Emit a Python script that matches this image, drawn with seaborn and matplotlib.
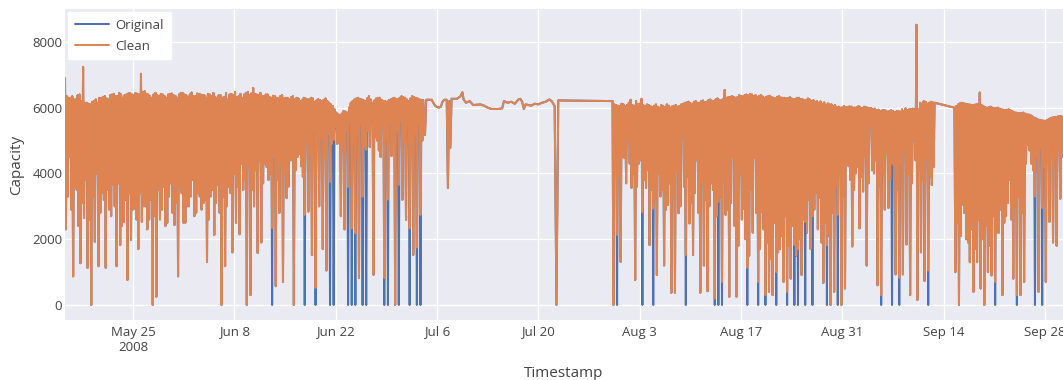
import numpy as np
import pandas as pd
import matplotlib
matplotlib.use("Agg")
import matplotlib.pyplot as plt
import seaborn as sns

# ---------------------------------------------------------------------------
# Capacity readings, May - Sep 2008.
# Busy periods are logged every three hours in a repeating cycle:
#   peak, trough, mid_peak, mid_trough, next peak, ...
# *_raw_zero lists the trough numbers where the raw feed reported 0 and the
# cleaning step replaced the reading with the trough value shown.
# ---------------------------------------------------------------------------
READ_STEP_HOURS = 3

spring_start = "2008-05-15 14:00"
spring_peaks = [
    6900, 6300, 6350, 6250, 6400, 7240, 6150, 6100, 6200, 6150,
    6300, 6350, 6250, 6400, 6350, 6450, 6300, 6400, 6450, 6380,
    6420, 7030, 6500, 6400, 6300, 6450, 6350, 6400, 6300, 6420,
    6380, 6300, 6450, 6400, 6320, 6460, 6350, 6420, 6380, 6300,
    6400, 6450, 6300, 6380, 6330, 6250, 6420, 6480, 6350, 6300,
    6450, 6380, 6600, 6400, 6450, 6350, 6400, 6300, 6350, 6280,
    6380, 6300, 6250, 6350, 6300, 6200, 6300, 6250, 6300, 6180,
    6260, 6200, 6280, 6150, 6050, 5850, 5780, 5900, 5850, 6150,
    6250, 6300, 6250, 6200, 6350, 6150, 6280, 6300, 6200, 6180,
    6250, 6300, 6250, 6350, 6300, 6200, 6350, 6300, 6250, 6230,
]
spring_troughs = [
    2300, 4500, 870, 3500, 1270, 2650, 1130, 0, 1920, 1180,
    3400, 1130, 2900, 3650, 1180, 1820, 2530, 760, 1980, 2930,
    1700, 2530, 3000, 2600, 0, 250, 2600, 3600, 2500, 3700,
    2430, 870, 3400, 2500, 3000, 3800, 2800, 3300, 3100, 1310,
    3300, 2130, 3650, 0, 1180, 3600, 1600, 2500, 2150, 3500,
    0, 300, 3000, 1580, 1900, 4300, 3800, 2340, 570, 2800,
    700, 3250, 4400, 0, 4500, 4220, 2740, 2840, 1520, 520,
    3000, 1700, 1050, 3740, 5020, 4900, 2700, 2300, 3590, 2330,
    2180, 820, 3290, 4720, 4800, 920, 5000, 4500, 820, 3200,
    4530, 0, 3650, 3200, 2590, 2330, 1520, 1750, 2740,
]
spring_mid_peaks = [
    6350, 6300, 6250, 6380, 6200, 6150, 6120, 6180, 6250, 6300,
    6330, 6280, 6380, 6420, 6350, 6400, 6380, 6430, 6400, 6450,
    6400, 6480, 6420, 6350, 6400, 6380, 6420, 6350, 6400, 6430,
    6360, 6400, 6450, 6380, 6400, 6350, 6430, 6400, 6380, 6420,
    6350, 6330, 6380, 6300, 6450, 6400, 6380, 6330, 6420, 6400,
    6480, 6430, 6420, 6380, 6350, 6400, 6330, 6360, 6300, 6350,
    6280, 6300, 6320, 6250, 6280, 6220, 6280, 6260, 6280, 6220,
    6230, 6240, 6200, 6100, 5950, 5800, 5820, 5880, 6000, 6200,
    6280, 6270, 6230, 6280, 6250, 6220, 6300, 6240, 6200, 6230,
    6280, 6270, 6300, 6320, 6250, 6280, 6320, 6280, 6240,
]
spring_mid_troughs = [
    3300, 2900, 3600, 2400, 3100, 3800, 2600, 3300, 4000, 2800,
    3200, 3500, 2700, 3000, 3700, 2400, 3200, 3400, 2900, 2600,
    3400, 3000, 2300, 3200, 2700, 3500, 2900, 2400, 3300, 2800,
    3100, 3600, 2500, 3000, 3300, 2700, 3400, 2900, 3200, 2600,
    3500, 3100, 2800, 3300, 3000, 3400, 4000, 3600, 4300, 3800,
    4200, 3500, 4100, 4400, 3700, 4200, 4000, 4500, 3800, 4300,
    4000, 3600, 4400, 4100, 4600, 3900, 5000, 4600, 5300, 4800,
    5100, 4500, 5200, 4900, 5400, 5000, 4700, 5300, 5600, 4900,
    5200, 5500, 4800, 5300, 5600, 5100, 4700, 5400, 5000, 5500,
    4900, 5300, 5600, 5000, 5400, 4800, 5200, 5500, 5000,
]
spring_raw_zero = [57, 66, 69, 73, 74, 78, 79, 80, 82, 83, 88, 89, 92, 95, 97, 98]

# Quiet stretch in July: irregular readings, identical in both feeds.
july_times = [
    "2008-07-04 08:00", "2008-07-04 12:00", "2008-07-05 06:00", "2008-07-05 18:00",
    "2008-07-06 06:00", "2008-07-06 12:00", "2008-07-06 18:00", "2008-07-07 00:00",
    "2008-07-07 08:00", "2008-07-07 12:00", "2008-07-07 16:00", "2008-07-07 20:00",
    "2008-07-08 00:00", "2008-07-08 18:00", "2008-07-09 06:00", "2008-07-09 12:00",
    "2008-07-09 16:00", "2008-07-10 00:00", "2008-07-10 12:00", "2008-07-11 00:00",
    "2008-07-12 00:00", "2008-07-12 12:00", "2008-07-13 00:00", "2008-07-13 12:00",
    "2008-07-14 12:00", "2008-07-15 00:00", "2008-07-15 06:00", "2008-07-15 18:00",
    "2008-07-16 06:00", "2008-07-16 18:00", "2008-07-17 06:00", "2008-07-17 12:00",
    "2008-07-17 18:00", "2008-07-18 00:00", "2008-07-18 06:00", "2008-07-19 00:00",
    "2008-07-19 12:00", "2008-07-20 00:00", "2008-07-20 12:00", "2008-07-21 00:00",
    "2008-07-21 12:00", "2008-07-21 20:00", "2008-07-22 06:00", "2008-07-22 12:00",
    "2008-07-22 18:00",
]
july_values = [
    5170, 6240, 6240, 6050, 6000, 6020, 6180, 6240, 6240, 3560, 6200, 4780,
    6270, 6270, 6350, 6470, 6250, 6150, 6200, 6080, 6100, 6060, 6000, 5960,
    5960, 5980, 6200, 6150, 6180, 6120, 6250, 6270, 6180, 5960, 6100, 6060,
    6120, 6100, 6150, 6180, 6250, 6200, 6050, 0, 6220,
]

late_start = "2008-07-30 06:00"
late_peaks = [
    6200, 6080, 6050, 6100, 6080, 6240, 6060, 6100, 6270, 6050,
    6080, 6020, 6100, 6000, 6050, 6100, 6000, 6060, 6030, 6100,
    6150, 6180, 6120, 6200, 6150, 6220, 6180, 6250, 6200, 6280,
    6220, 6540, 6320, 6350, 6300, 6380, 6340, 6400, 6420, 6350,
    6330, 6380, 6300, 6350, 6320, 6280, 6350, 6300, 6280, 6320,
    6250, 6300, 6260, 6220, 6280, 6200, 6180, 6150, 6120, 6080,
    6100, 6050, 6020, 6000, 6050, 6010, 6030, 6000, 6050, 5990,
    6020, 5980, 5950, 5930, 5900, 5930, 5880, 5920, 5870, 5900,
    5950, 5980, 5950, 5970, 8520, 6150, 6200, 6120, 6180, 6150,
]
late_troughs = [
    0, 2130, 1310, 4470, 5000, 3560, 760, 4300, 2830, 3560,
    1820, 2930, 910, 3300, 1200, 3040, 370, 370, 2790, 5100,
    1520, 2480, 1520, 4400, 370, 1200, 420, 3700, 200, 3140,
    700, 2740, 250, 4500, 250, 4000, 2930, 1130, 3500, 4470,
    700, 2840, 300, 400, 300, 1000, 1700, 700, 400, 800,
    1820, 1700, 910, 2530, 3200, 2700, 3400, 3250, 670, 1820,
    0, 400, 2740, 0, 500, 4220, 1780, 4000, 2330, 3450,
    1200, 5500, 4000, 600, 300, 2900, 2950, 4300, 930, 830,
    930, 1840, 300, 5000, 150, 1600, 730, 1050, 3650,
]
late_mid_peaks = [
    6100, 6060, 6120, 6050, 6150, 6080, 6200, 6120, 6080, 6100,
    6050, 6060, 6030, 6080, 6020, 6060, 6040, 6080, 6050, 6120,
    6160, 6140, 6180, 6150, 6200, 6170, 6230, 6210, 6250, 6240,
    6260, 6300, 6330, 6330, 6320, 6360, 6380, 6370, 6400, 6380,
    6360, 6340, 6330, 6360, 6300, 6330, 6310, 6300, 6290, 6280,
    6270, 6300, 6260, 6240, 6250, 6230, 6200, 6190, 6160, 6130,
    6100, 6080, 6030, 6010, 6020, 6040, 6000, 6020, 6010, 6030,
    6000, 5990, 5970, 5940, 5920, 5910, 5900, 5900, 5890, 5880,
    5900, 5920, 5960, 5960, 5950, 6120, 6180, 6150, 6160,
]
late_mid_troughs = [
    4200, 3900, 4500, 3700, 4300, 4000, 3600, 4400, 3800, 4100,
    3500, 3200, 4000, 3500, 2900, 3700, 3300, 4100, 3000, 3600,
    3900, 3100, 3400, 2800, 3700, 3200, 3000, 3500, 2700, 3300,
    3800, 2900, 3100, 2400, 1800, 2600, 2000, 1500, 2200, 2800,
    1700, 2300, 1900, 1400, 2500, 1600, 2100, 2700, 1800, 2400,
    1500, 2000, 2600, 2200, 1700, 2900, 2300, 1900, 2500, 2100,
    2800, 3600, 4000, 3300, 4300, 3800, 3500, 4200, 3900, 4500,
    3700, 4100, 4400, 3600, 4000, 4600, 3800, 4200, 3500, 4300,
    4700, 4000, 3700, 4400, 4100, 3800, 4500, 3900, 4200,
]
late_raw_zero = [0, 1, 8, 11, 20, 28, 29, 30, 37, 40, 42, 45, 48, 50, 51,
                 53, 55, 59, 62, 74, 77, 79, 87]

autumn_start = "2008-09-15 12:00"
autumn_peaks = [
    6000, 6100, 6150, 6120, 6100, 6080, 6100, 6460, 6050, 6000,
    6030, 5980, 6000, 5950, 5930, 5950, 5900, 5850, 5830, 5850,
    5800, 5780, 5700, 5650, 5620, 5600, 5650, 5700, 5720, 5750,
    5720,
]
autumn_troughs = [
    1000, 0, 3050, 2000, 1300, 400, 1300, 500, 0, 1000,
    900, 700, 2200, 300, 2700, 3800, 800, 300, 300, 700,
    4880, 4300, 3300, 400, 2950, 700, 2530, 1900, 1800, 3230,
]
autumn_mid_peaks = [
    6050, 6130, 6140, 6110, 6090, 6090, 6120, 6080, 6020, 6010,
    6000, 5990, 5970, 5940, 5940, 5920, 5870, 5840, 5840, 5820,
    5790, 5740, 5680, 5630, 5610, 5620, 5680, 5710, 5730, 5740,
]
autumn_mid_troughs = [
    2500, 2100, 2800, 1900, 2300, 1700, 2600, 2000, 2400, 1800,
    2700, 2200, 2900, 2500, 3100, 2600, 3000, 3300, 2800, 4300,
    4700, 4100, 4500, 4800, 4200, 4600, 4900, 4400, 4700, 4500,
]
autumn_raw_zero = [1, 11, 17, 22, 24]

x_tick_dates = ["2008-05-25", "2008-06-08", "2008-06-22", "2008-07-06", "2008-07-20",
                "2008-08-03", "2008-08-17", "2008-08-31", "2008-09-14", "2008-09-28"]
x_tick_labels = ["May 25\n2008", "Jun 8", "Jun 22", "Jul 6", "Jul 20",
                 "Aug 3", "Aug 17", "Aug 31", "Sep 14", "Sep 28"]
y_ticks = [0, 2000, 4000, 6000, 8000]

series_names = ["Original", "Clean"]
series_colors = ["#4C72B0", "#DD8452"]


def busy_block(start, peaks, troughs, mid_peaks, mid_troughs, raw_zero):
    """Lay out one busy period's three-hourly cycle for both feeds."""
    clean = []
    raw = []
    zero_set = set(raw_zero)
    for i, p in enumerate(peaks):
        clean.append(p)
        raw.append(p)
        if i < len(troughs):
            clean += [troughs[i], mid_peaks[i], mid_troughs[i]]
            raw += [0 if i in zero_set else troughs[i], mid_peaks[i], mid_troughs[i]]
    times = pd.date_range(start, periods=len(clean),
                          freq=pd.Timedelta(hours=READ_STEP_HOURS))
    return pd.DataFrame({"Timestamp": times, "raw": raw, "clean": clean})


blocks = [
    busy_block(spring_start, spring_peaks, spring_troughs,
               spring_mid_peaks, spring_mid_troughs, spring_raw_zero),
    pd.DataFrame({"Timestamp": pd.to_datetime(july_times),
                  "raw": july_values, "clean": july_values}),
    busy_block(late_start, late_peaks, late_troughs,
               late_mid_peaks, late_mid_troughs, late_raw_zero),
    busy_block(autumn_start, autumn_peaks, autumn_troughs,
               autumn_mid_peaks, autumn_mid_troughs, autumn_raw_zero),
]
wide = pd.concat(blocks, ignore_index=True)
long = pd.concat([
    pd.DataFrame({"Timestamp": wide["Timestamp"], "Capacity": wide["raw"],
                  "Series": series_names[0]}),
    pd.DataFrame({"Timestamp": wide["Timestamp"], "Capacity": wide["clean"],
                  "Series": series_names[1]}),
], ignore_index=True)

# ---------------------------------------------------------------------------
sns.set_theme(style="darkgrid", rc={
    "axes.facecolor": "#EAEAF2",
    "grid.color": "white",
    "grid.linewidth": 0.9,
})
plt.rcParams["font.family"] = ["Open Sans", "DejaVu Sans"]
text_color = "#444444"

fig = plt.figure(figsize=(10.63, 3.80), dpi=100)
ax = fig.add_axes([65 / 1063, 60 / 380, 998 / 1063, 311 / 380])

sns.lineplot(data=long, x="Timestamp", y="Capacity", hue="Series",
             hue_order=series_names, palette=series_colors,
             estimator=None, sort=False, linewidth=1.45, ax=ax)

ax.set_xlim(wide["Timestamp"].min(), wide["Timestamp"].max())
ax.set_ylim(-456, 9000)
ax.set_xticks(pd.to_datetime(x_tick_dates))
ax.set_xticklabels(x_tick_labels)
ax.set_yticks(y_ticks)
ax.set_yticklabels([str(v) for v in y_ticks])
ax.tick_params(axis="both", length=0, labelsize=9.5, labelcolor=text_color)
ax.tick_params(axis="x", pad=4)
ax.tick_params(axis="y", pad=2)
for s in ax.spines.values():
    s.set_visible(False)

ax.set_xlabel("Timestamp", fontsize=11, color=text_color, labelpad=9)
ax.set_ylabel("Capacity", fontsize=11, color=text_color, labelpad=6)

handles, labels = ax.get_legend_handles_labels()
leg = ax.legend(handles, labels, loc="upper left", bbox_to_anchor=(0.003, 0.99),
                borderaxespad=0, frameon=True, fancybox=False, framealpha=1,
                facecolor="white", edgecolor="white", fontsize=9.5,
                handlelength=2.6, handletextpad=0.5, labelspacing=0.6,
                borderpad=0.5)
for t in leg.get_texts():
    t.set_color(text_color)
for h in leg.get_lines():
    h.set_linewidth(1.45)

fig.savefig("out.png", dpi=100, facecolor="white")
